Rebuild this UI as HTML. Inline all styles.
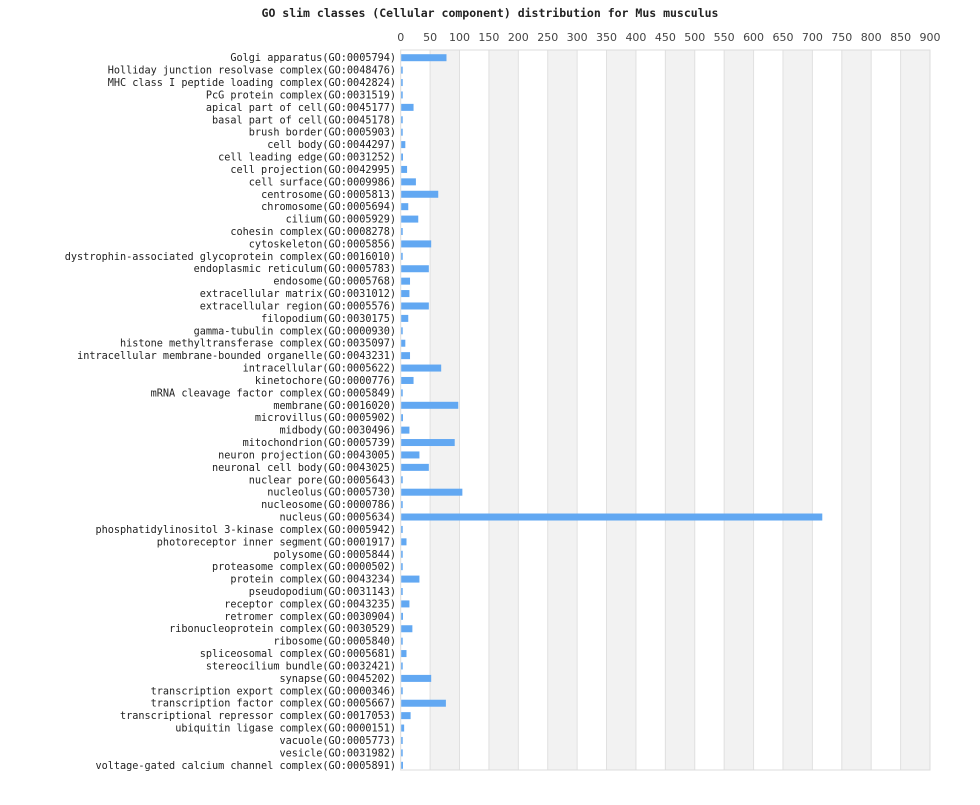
<!DOCTYPE html>
<html><head><meta charset="utf-8"><style>
html,body{margin:0;padding:0;background:#fff;}
svg text{font-family:"DejaVu Sans Mono","Liberation Mono",monospace;}
</style></head><body>
<svg width="980" height="800" xmlns="http://www.w3.org/2000/svg">
<text x="490" y="17" text-anchor="middle" font-size="11.5" font-weight="bold" fill="#222">GO slim classes (Cellular component) distribution for Mus musculus</text>
<g id="plot"></g>
</svg>
<script>
var d=[["Golgi apparatus(GO:0005794)",77],["Holliday junction resolvase complex(GO:0048476)",1],["MHC class I peptide loading complex(GO:0042824)",1],["PcG protein complex(GO:0031519)",1],["apical part of cell(GO:0045177)",21],["basal part of cell(GO:0045178)",1],["brush border(GO:0005903)",1],["cell body(GO:0044297)",7],["cell leading edge(GO:0031252)",3],["cell projection(GO:0042995)",10],["cell surface(GO:0009986)",25],["centrosome(GO:0005813)",63],["chromosome(GO:0005694)",12],["cilium(GO:0005929)",29],["cohesin complex(GO:0008278)",1],["cytoskeleton(GO:0005856)",51],["dystrophin-associated glycoprotein complex(GO:0016010)",1],["endoplasmic reticulum(GO:0005783)",47],["endosome(GO:0005768)",15],["extracellular matrix(GO:0031012)",14],["extracellular region(GO:0005576)",47],["filopodium(GO:0030175)",12],["gamma-tubulin complex(GO:0000930)",1],["histone methyltransferase complex(GO:0035097)",7],["intracellular membrane-bounded organelle(GO:0043231)",15],["intracellular(GO:0005622)",68],["kinetochore(GO:0000776)",21],["mRNA cleavage factor complex(GO:0005849)",1],["membrane(GO:0016020)",97],["microvillus(GO:0005902)",3],["midbody(GO:0030496)",14],["mitochondrion(GO:0005739)",91],["neuron projection(GO:0043005)",31],["neuronal cell body(GO:0043025)",47],["nuclear pore(GO:0005643)",1],["nucleolus(GO:0005730)",104],["nucleosome(GO:0000786)",1],["nucleus(GO:0005634)",716],["phosphatidylinositol 3-kinase complex(GO:0005942)",1],["photoreceptor inner segment(GO:0001917)",9],["polysome(GO:0005844)",1],["proteasome complex(GO:0000502)",1],["protein complex(GO:0043234)",31],["pseudopodium(GO:0031143)",1],["receptor complex(GO:0043235)",14],["retromer complex(GO:0030904)",3],["ribonucleoprotein complex(GO:0030529)",19],["ribosome(GO:0005840)",1],["spliceosomal complex(GO:0005681)",9],["stereocilium bundle(GO:0032421)",1],["synapse(GO:0045202)",51],["transcription export complex(GO:0000346)",1],["transcription factor complex(GO:0005667)",76],["transcriptional repressor complex(GO:0017053)",16],["ubiquitin ligase complex(GO:0000151)",5],["vacuole(GO:0005773)",1],["vesicle(GO:0031982)",2],["voltage-gated calcium channel complex(GO:0005891)",3]];
var L=400.7,R=930,T=50,B=770,s=(R-L)/900,h=(B-T)/d.length,o="";
for(var i=0;i<18;i++){var x=L+i*50*s;if(i%2==1)o+='<rect x="'+x+'" y="'+T+'" width="'+(50*s)+'" height="'+(B-T)+'" fill="#f2f2f2"/>';}
for(var i=1;i<18;i++){var x=L+i*50*s;o+='<line x1="'+x+'" y1="'+T+'" x2="'+x+'" y2="'+B+'" stroke="#e0e0e0"/>';}
o+='<rect x="'+L+'" y="'+T+'" width="'+(R-L)+'" height="'+(B-T)+'" fill="none" stroke="#dcdcdc"/>';
for(var i=0;i<=18;i++){var x=L+i*50*s;o+='<text x="'+x+'" y="41" text-anchor="middle" font-size="11" fill="#444" style="font-family:\'DejaVu Sans\',sans-serif">'+(i*50)+'</text>';}
d.forEach(function(r,i){var c=T+1.5+h*(i+0.5);o+='<rect x="'+(L+0.5)+'" y="'+(c-3.5)+'" width="'+Math.max(1.5,r[1]*s)+'" height="7" fill="#62a8f2"/>';o+='<text x="396" y="'+(c+3.5)+'" text-anchor="end" font-size="10.2" fill="#222">'+r[0]+'</text>';});
document.getElementById("plot").innerHTML=o;
</script>
</body></html>
